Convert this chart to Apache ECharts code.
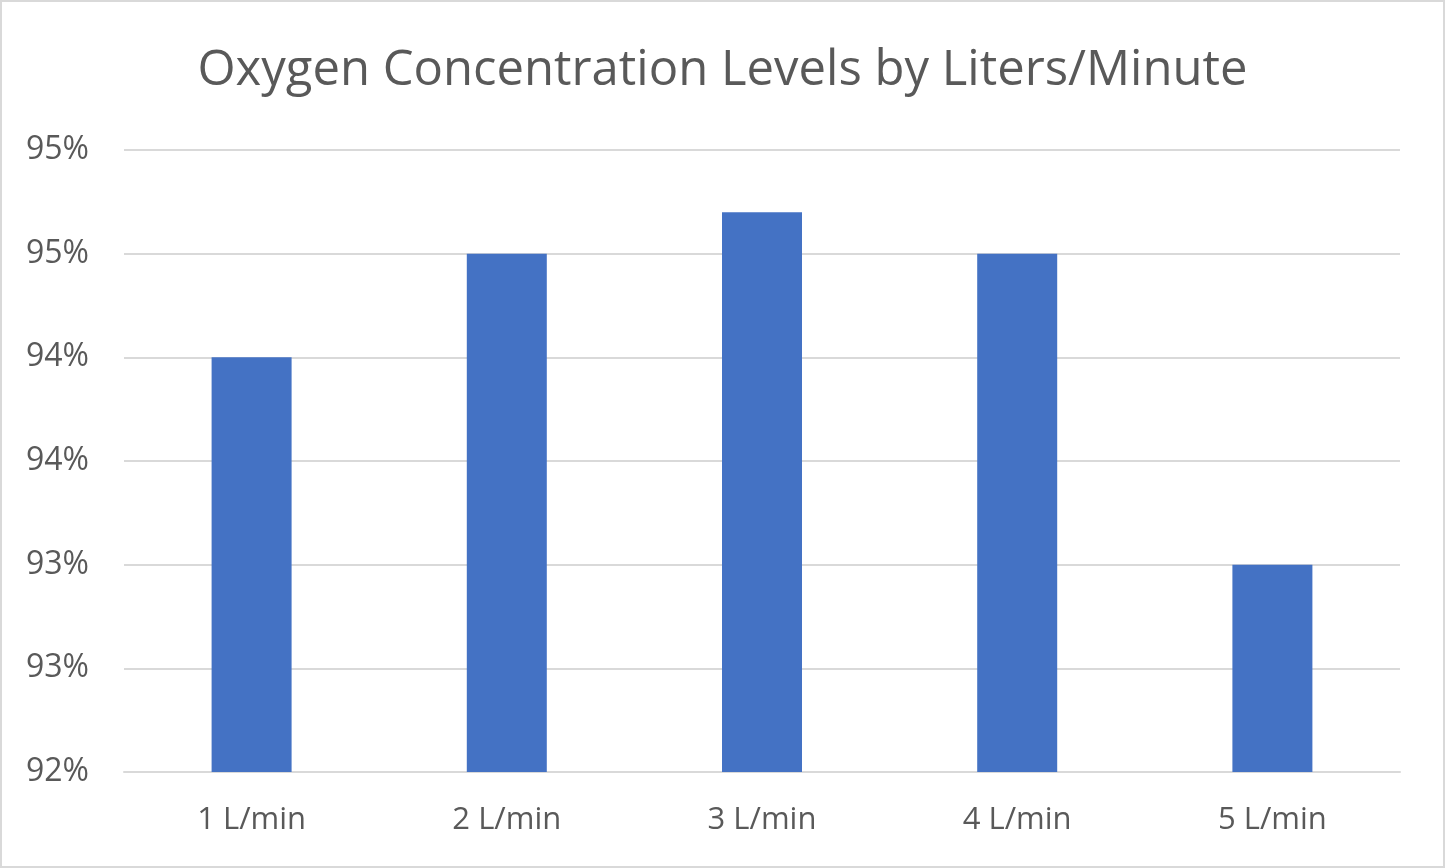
<!DOCTYPE html>
<html>
<head>
<meta charset="utf-8">
<title>Oxygen Concentration Levels by Liters/Minute</title>
<script src="https://cdn.jsdelivr.net/npm/echarts@6/dist/echarts.min.js"></script>
<style>
  html, body { margin: 0; padding: 0; background: #fff; }
  #main { width: 1445px; height: 868px; }
  #frame {
    position: absolute; left: 0; top: 0; width: 1445px; height: 868px;
    box-sizing: border-box; border: 2px solid #d9d9d9; pointer-events: none;
  }
</style>
</head>
<body>
<div id="main"></div>
<div id="frame"></div>
<script>
// flow rates and measured oxygen concentration (%)
var flowRates = ['1 L/min', '2 L/min', '3 L/min', '4 L/min', '5 L/min']
var concentration = [94.0, 94.5, 94.7, 94.5, 93.0]

var myChart = echarts.init(document.getElementById('main'))
var textColor = '#595959'
var font = 'Open Sans, Liberation Sans, sans-serif'

var option = {
  backgroundColor: '#ffffff',
  animation: false,
  title: {
    text: 'Oxygen Concentration Levels by Liters/Minute',
    left: 'center',
    top: 42,
    textStyle: {
      color: textColor,
      fontSize: 49,
      fontWeight: 'normal',
      fontFamily: font
    }
  },
  grid: {
    left: 124,
    right: 45,
    top: 150,
    bottom: 96,
    containLabel: false
  },
  xAxis: {
    type: 'category',
    data: flowRates,
    axisLine: { lineStyle: { color: '#d9d9d9', width: 2 } },
    axisTick: { show: false },
    axisLabel: {
      color: textColor,
      fontSize: 31,
      fontFamily: font,
      margin: 33
    }
  },
  yAxis: {
    type: 'value',
    min: 92,
    max: 95,
    interval: 0.5,
    axisLine: { show: false },
    axisTick: { show: false },
    splitLine: { lineStyle: { color: '#d9d9d9', width: 2 } },
    axisLabel: {
      color: textColor,
      fontSize: 32,
      fontFamily: font,
      margin: 35,
      // Excel-style "0%" format: half-steps round up
      formatter: function (v) { return Math.round(v) + '%' }
    }
  },
  series: [{
    type: 'bar',
    data: concentration,
    barWidth: 80,
    itemStyle: { color: '#4472c4' }
  }]
}
myChart.setOption(option)
window.onresize = myChart.resize
</script>
</body>
</html>
